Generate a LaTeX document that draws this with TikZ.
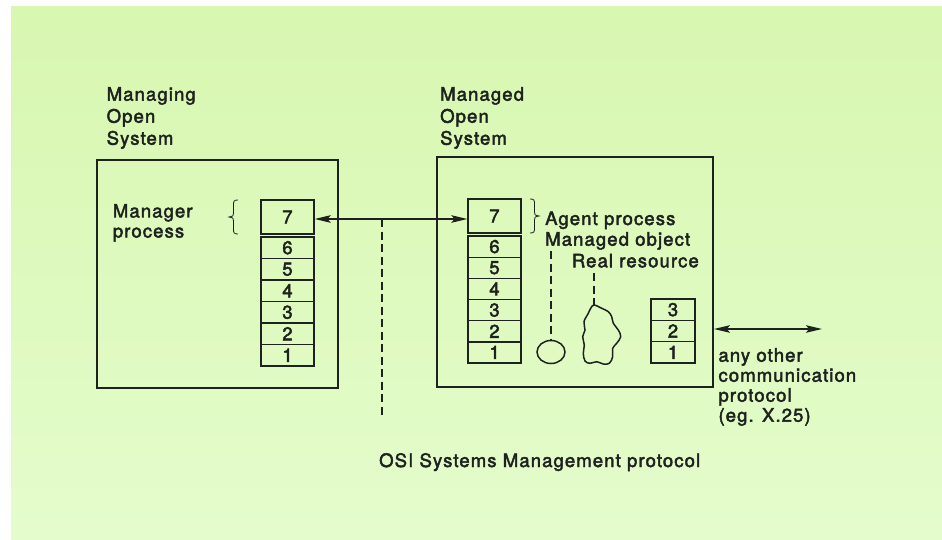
\documentclass[tikz,border=0pt]{standalone}
\usepackage{fontspec}
\setmainfont{TeX Gyre Heros}[LetterSpace=6, FakeBold=2.5]
\usetikzlibrary{arrows.meta, shapes.geometric}
\definecolor{ink}{RGB}{30,34,30}
\definecolor{bgtop}{RGB}{216,247,176}
\definecolor{bgbot}{RGB}{228,252,204}
\tikzset{
  lbl/.style={anchor=base west, inner sep=0pt, font=\fontsize{18.5}{22}\selectfont, text=ink},
  layer/.style={draw=ink, line width=1.3pt, inner sep=0pt, minimum width=53pt,
    minimum height=21.67pt, font=\fontsize{18.5}{20}\selectfont, text=ink},
  sysbox/.style={draw=ink, line width=1.8pt, inner sep=0pt},
  link/.style={ink, line width=1.5pt,
    {Stealth[length=16pt,width=7.5pt,inset=3pt]}-{Stealth[length=16pt,width=7.5pt,inset=3pt]}},
  dashline/.style={ink, line width=1.8pt, dash pattern=on 8pt off 4.5pt},
  thindash/.style={ink, line width=1.3pt, dash pattern=on 8pt off 4.5pt},
  bracestroke/.style={ink, line width=0.8pt},
}
\begin{document}
\begin{tikzpicture}[x=1pt, y=-1pt]
\useasboundingbox (0,0) rectangle (942,540);
% paper
\shade[top color=bgtop, bottom color=bgbot] (11,7) rectangle (942,540);

% the two open systems
\node[sysbox, minimum width=241pt, minimum height=228pt] (MgBox) at (217.5,274) {};
\node[sysbox, minimum width=276pt, minimum height=230pt] (MdBox) at (575,272) {};

\node[lbl] (mg1) at (106.5,100.7) {Managing};
\node[lbl] (mg2) at (106.5,122.7) {Open};
\node[lbl] (mg3) at (106.5,144.7) {System};
\node[lbl] (md1) at (440,100.7) {Managed};
\node[lbl] (md2) at (440,122.7) {Open};
\node[lbl] (md3) at (440,144.7) {System};

% manager side protocol stack
\node[layer, minimum height=34pt] (L7) at (287.5,217) {7};
\foreach \n [count=\i] in {6,5,4,3,2,1}
  \node[layer, minimum height=21.5pt] (L\n) at (287.5,{237+21.5*(\i-0.5)}) {\n};

% agent side protocol stack
\node[layer, minimum height=34pt] (R7) at (494.5,216) {7};
\foreach \n [count=\i] in {6,5,4,3,2,1}
  \node[layer, minimum height=21.17pt] (R\n) at (494.5,{236+21.17*(\i-0.5)}) {\n};

% lower layers for the other protocol
\foreach \n [count=\i] in {3,2,1}
  \node[layer, minimum width=44pt, minimum height=21.33pt] (S\n) at (673,{299+21.33*(\i-0.5)}) {\n};

% braces
\draw[bracestroke] (238,200) .. controls (234,200) and (233.5,201) .. (233.5,205)
  -- (233.5,213) .. controls (233.5,216) .. (229,217) .. controls (233.5,218) .. (233.5,221)
  -- (233.5,229) .. controls (233.5,233) and (234,234) .. (238,234);
\draw[bracestroke] (530,199) .. controls (534,199) and (534.5,200) .. (534.5,204)
  -- (534.5,212) .. controls (534.5,215) .. (539,216) .. controls (534.5,217) .. (534.5,220)
  -- (534.5,228) .. controls (534.5,232) and (534,233) .. (530,233);

\node[lbl] (mp1) at (112.7,217.5) {Manager};
\node[lbl] (mp2) at (112.7,237.5) {process};

\node[lbl] (ap) at (545,225) {Agent process};
\node[lbl] (mo) at (545,245.7) {Managed object};
\node[lbl] (rr) at (571.7,267.3) {Real resource};

% managed object and real resource
\node[draw=ink, line width=1.5pt, ellipse, minimum width=28pt, minimum height=23pt, inner sep=0pt] (MO) at (551,352) {};
\coordinate (moTop) at (551,251);
\draw[thindash] (moTop) -- (MO.north);

\draw[ink, line width=1.5pt] plot[smooth cycle, tension=0.6] coordinates {
  (594,305) (601.7,308.3) (608.3,311.7) (611.7,316.7) (613.3,323.3) (618.3,330)
  (620.7,336.7) (616.7,343.3) (612.7,348.3) (612.7,356.7) (609.3,363.3) (603.3,364)
  (596.7,361.7) (590,363.3) (585,361) (583.3,353.3) (584.3,345) (582.7,336.7)
  (585,330) (584,321.7) (588.3,313.3) (590.7,308.3)};
\coordinate (RR) at (594,305);
\coordinate (rrTop) at (594,273);
\draw[thindash] (rrTop) -- (RR);

% OSI management exchange
\coordinate (tap) at (382,219);
\coordinate (tapEnd) at (382,418);
\draw[link] (L7.east |- tap) -- (R7.west |- tap);
\draw[dashline] (tap) -- (tapEnd);
\node[lbl] (osi) at (379,467) {OSI Systems Management protocol};

% other protocol exchange
\coordinate (far) at (822,329);
\draw[link] (MdBox.east |- far) -- (far);
\node[lbl] (ao1) at (718.3,361.7) {any other};
\node[lbl] (ao2) at (718.3,381.7) {communication};
\node[lbl] (ao3) at (718.3,401.7) {protocol};
\node[lbl] (ao4) at (718.3,421.7) {(eg. X.25)};
\end{tikzpicture}
\end{document}
